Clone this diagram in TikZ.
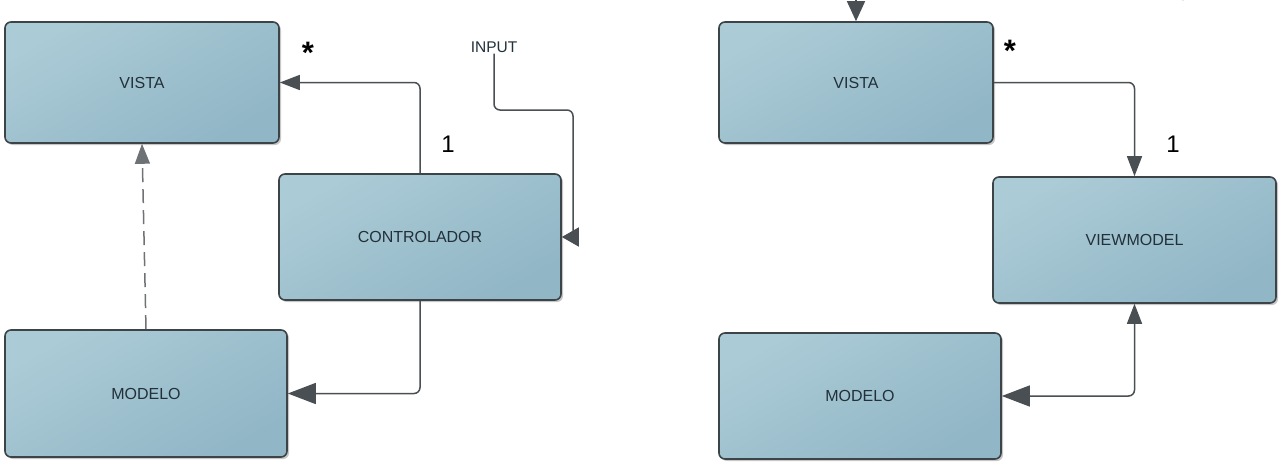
\documentclass[tikz,border=0pt]{standalone}
\usepackage{fontspec}
\setmainfont{Liberation Sans}
\usetikzlibrary{arrows.meta,shadows}
\definecolor{boxlight}{HTML}{ABCBD6}
\definecolor{boxdark}{HTML}{91B6C6}
\definecolor{boxedge}{HTML}{3C4448}
\definecolor{boxtext}{HTML}{22303A}
\definecolor{linecol}{HTML}{4A4F53}
\begin{document}
\begin{tikzpicture}[x=1pt,y=-1pt,
  umlbox/.style={draw=boxedge, line width=1.6pt, rounded corners=6pt,
    top color=boxlight, bottom color=boxdark, shading angle=30,
    drop shadow={shadow xshift=2pt, shadow yshift=-2pt, opacity=0.22, fill=black},
    inner sep=0pt, text=boxtext, font=\fontsize{16}{18}\selectfont},
  tip/.tip={Triangle[length=20pt,width=15pt]},
  bigtip/.tip={Triangle[length=28pt,width=21pt]},
  conn/.style={draw=linecol, line width=1.5pt, rounded corners=6pt, -tip},
  mult/.style={text=black, font=\fontsize{24}{26}\selectfont, inner sep=0pt},
  star/.style={text=black, font=\bfseries\fontsize{31}{32}\selectfont, inner sep=0pt},
  lbl/.style={text=boxtext, font=\fontsize{15.5}{17}\selectfont, inner sep=1pt}]
\useasboundingbox (0,0) rectangle (1282,466);

% left diagram
\node[umlbox, minimum width=274pt, minimum height=121pt] (vista1) at (142,82.5) {VISTA};
\node[umlbox, minimum width=282pt, minimum height=126pt] (ctrl) at (420,237) {CONTROLADOR};
\node[umlbox, minimum width=282pt, minimum height=127pt] (modelo1) at (146,393.5) {MODELO};
\node[lbl] (input1) at (494,47) {INPUT};
\node[star] (star1) at (308,53) {*};
\node[mult] (one1) at (448,144) {1};

\draw[conn] (ctrl.north) |- (vista1.east);
\draw[conn, -bigtip] (ctrl.south) |- (modelo1.east);
\coordinate (inbend) at (573,110);
\coordinate (incorner) at (573,237);
\draw[draw=linecol, line width=1.5pt, rounded corners=6pt] (input1.south) |- (inbend) -- (incorner);
\draw[conn, rounded corners=0pt, -{Triangle[length=17pt,width=19pt]}] (incorner) -- (ctrl.east);
\draw[conn, dash pattern=on 14pt off 7pt, draw=linecol!80] (modelo1.north) -- (vista1.south);

% right diagram
\node[umlbox, minimum width=274pt, minimum height=121pt] (vista2) at (856,82.5) {VISTA};
\node[umlbox, minimum width=283pt, minimum height=126pt] (vm) at (1134.5,240) {VIEWMODEL};
\node[umlbox, minimum width=282pt, minimum height=126pt] (modelo2) at (860,396) {MODELO};
\node[lbl] (input2) at (1175,-5) {INPUT};
\node[star] (star2) at (1010,51) {*};
\node[mult] (one2) at (1173,144) {1};

\coordinate (topin) at (856,-5);
\draw[conn, -{Triangle[length=20pt,width=18pt]}] (topin) -- (vista2.north);
\draw[conn] (vista2.east) -| (vm.north);
\draw[conn, bigtip-tip] (modelo2.east) -| (vm.south);
\end{tikzpicture}
\end{document}
